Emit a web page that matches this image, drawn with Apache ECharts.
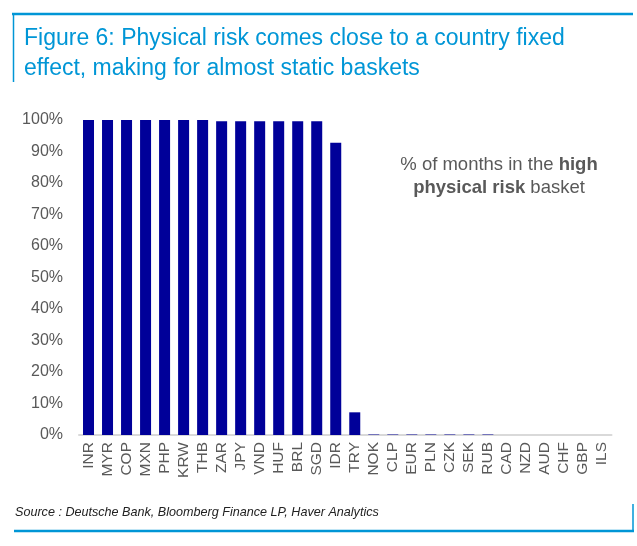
<!DOCTYPE html>
<html>
<head>
<meta charset="utf-8">
<script src="https://cdn.jsdelivr.net/npm/echarts@6/dist/echarts.min.js"></script>
<style>html,body{margin:0;padding:0;background:#fff}#c{width:637px;height:546px}</style>
</head>
<body>
<div id="c"></div>
<script>
var categories = ['INR','MYR','COP','MXN','PHP','KRW','THB','ZAR','JPY','VND','HUF','BRL','SGD','IDR','TRY','NOK','CLP','EUR','PLN','CZK','SEK','RUB','CAD','NZD','AUD','CHF','GBP','ILS'];
var values = [100,100,100,100,100,100,100,99.6,99.6,99.6,99.6,99.6,99.6,92.8,7.2,0.15,0.15,0.15,0.15,0.15,0.15,0.15,0,0,0,0,0,0];
var yTicks = [0,10,20,30,40,50,60,70,80,90,100];

var blue = '#0096d6';
var grey = '#595959';
var chart = echarts.init(document.getElementById('c'));
chart.setOption({
  animation: false,
  grid: {left: 79, right: 25.5, top: 120, bottom: 111, containLabel: false},
  xAxis: {
    type: 'category', data: categories,
    axisLine: {lineStyle: {color: '#d9d9d9', width: 2}},
    axisTick: {show: false},
    axisLabel: {rotate: 90, interval: 0, color: grey, fontFamily: 'Liberation Sans', fontSize: 15.5, margin: 7}
  },
  yAxis: {
    type: 'value', min: yTicks[0], max: yTicks[yTicks.length-1], interval: 10,
    axisLine: {show: false}, axisTick: {show: false}, splitLine: {show: false},
    axisLabel: {color: grey, fontFamily: 'Liberation Sans', fontSize: 16, margin: 16, formatter: '{value}%'}
  },
  series: [{
    type: 'bar', data: values, barWidth: 11,
    itemStyle: {color: '#000099'}
  }],
  graphic: [
    {type: 'line', shape: {x1: 12, y1: 14, x2: 633, y2: 14}, style: {stroke: blue, lineWidth: 2.5}},
    {type: 'line', shape: {x1: 13.5, y1: 13, x2: 13.5, y2: 82}, style: {stroke: blue, lineWidth: 1.5}},
    {type: 'text', left: 24, top: 27, style: {text: 'Figure 6: Physical risk comes close to a country fixed', fill: blue, font: '23px "Liberation Sans"'}},
    {type: 'text', left: 24, top: 57, style: {text: 'effect, making for almost static baskets', fill: blue, font: '23px "Liberation Sans"'}},
    {type: 'text', x: 499, y: 176, style: {
      text: '{n|% of months in the }{b|high}\n{b|physical risk}{n| basket}',
      align: 'center', verticalAlign: 'middle', lineHeight: 23,
      rich: {
        n: {fill: grey, font: '18.5px "Liberation Sans"', lineHeight: 23},
        b: {fill: grey, font: 'bold 18.5px "Liberation Sans"', lineHeight: 23}
      }
    }},
    {type: 'text', left: 15, top: 506, style: {text: 'Source : Deutsche Bank, Bloomberg Finance LP, Haver Analytics', fill: '#222', font: 'italic 12.6px "Liberation Sans"'}},
    {type: 'line', shape: {x1: 14, y1: 531, x2: 634, y2: 531}, style: {stroke: blue, lineWidth: 2.5}},
    {type: 'line', shape: {x1: 633, y1: 504, x2: 633, y2: 532}, style: {stroke: blue, lineWidth: 1.5}}
  ]
});
</script>
</body>
</html>
